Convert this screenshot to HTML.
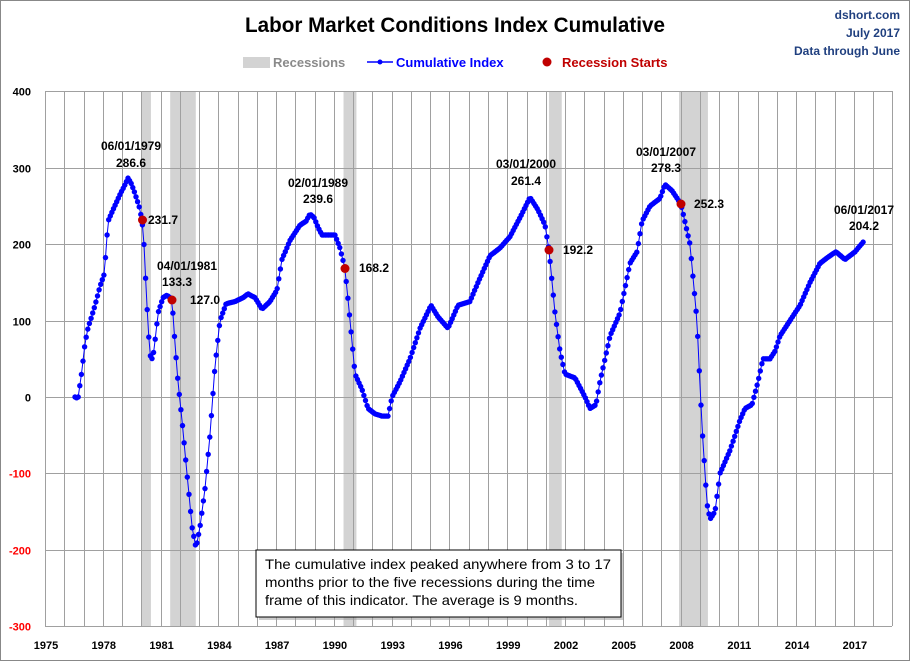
<!DOCTYPE html>
<html><head><meta charset="utf-8"><style>
html,body{margin:0;padding:0;background:#fff}
svg{display:block;font-family:"Liberation Sans",sans-serif}
</style></head><body>
<svg id="s" width="910" height="661" viewBox="0 0 910 661" xmlns="http://www.w3.org/2000/svg">
<rect x="0.5" y="0.5" width="909" height="660" fill="#fff" stroke="#888"/>
<g id="rec" fill="#d3d3d3"></g>
<g id="grid" stroke="#a0a0a0" stroke-width="1"></g>
<g id="lab" font-size="11" font-weight="bold"></g>
<text x="455" y="32" font-size="21" font-weight="bold" text-anchor="middle" textLength="420" lengthAdjust="spacingAndGlyphs">Labor Market Conditions Index Cumulative</text>
<g font-size="12" font-weight="bold" fill="#1f3f7f" text-anchor="end">
<text x="900" y="19">dshort.com</text><text x="900" y="37">July 2017</text><text x="900" y="55">Data through June</text></g>
<rect x="243" y="57" width="27" height="11" fill="#d3d3d3"/>
<text x="273" y="67" font-size="13" font-weight="bold" fill="#8a8a8a">Recessions</text>
<line x1="367" y1="62" x2="393" y2="62" stroke="#0000ff" stroke-width="1.5"/><circle cx="380" cy="62" r="2.5" fill="#0000ff"/>
<text x="396" y="67" font-size="13" font-weight="bold" fill="#0000ff">Cumulative Index</text>
<circle cx="547" cy="62" r="4.5" fill="#c00000"/>
<text x="562" y="67" font-size="13" font-weight="bold" fill="#c00000">Recession Starts</text>
<polyline id="line" fill="none" stroke="#0000ff" stroke-width="1"/>
<g id="dots" fill="#0000ff"></g>
<g fill="#c00000">
<circle cx="142.5" cy="220" r="4.5"/><circle cx="172" cy="300" r="4.5"/><circle cx="345" cy="268.5" r="4.5"/><circle cx="549" cy="250" r="4.5"/><circle cx="681" cy="204" r="4.5"/></g>
<g font-size="12" font-weight="bold" fill="#000" text-anchor="middle">
<text x="131" y="150">06/01/1979</text><text x="131" y="167">286.6</text>
<text x="163" y="224">231.7</text>
<text x="187" y="270">04/01/1981</text><text x="177" y="286">133.3</text>
<text x="205" y="304">127.0</text>
<text x="318" y="187">02/01/1989</text><text x="318" y="203">239.6</text>
<text x="374" y="272">168.2</text>
<text x="526" y="168">03/01/2000</text><text x="526" y="185">261.4</text>
<text x="578" y="254">192.2</text>
<text x="666" y="156">03/01/2007</text><text x="666" y="172">278.3</text>
<text x="709" y="208">252.3</text>
<text x="864" y="214">06/01/2017</text><text x="864" y="230">204.2</text>
</g>
<rect x="259" y="553" width="365" height="67" fill="#999" opacity="0.5"/>
<rect x="256" y="550" width="365" height="67" fill="#fff" stroke="#000" stroke-width="1"/>
<g font-size="14" fill="#000">
<text x="265" y="569" textLength="346" lengthAdjust="spacingAndGlyphs">The cumulative index peaked anywhere from 3 to 17</text>
<text x="265" y="587" textLength="330" lengthAdjust="spacingAndGlyphs">months prior to the five recessions during the time</text>
<text x="265" y="605" textLength="313" lengthAdjust="spacingAndGlyphs">frame of this indicator. The average is 9 months.</text>
</g>
</svg>
<script>
const NS="http://www.w3.org/2000/svg";
function el(p,t,a,txt){const e=document.createElementNS(NS,t);for(const k in a)e.setAttribute(k,a[k]);if(txt!=null)e.textContent=txt;document.getElementById(p).appendChild(e);return e;}
const X0=45,PY=19.26,L=45,R=892,T=91,B=626;
const xy=y=>X0+(y-1975)*PY;
const vy=v=>397-v*0.764;
[[1980,1980.5],[1981.5,1982.83],[1990.5,1991.17],[2001.17,2001.83],[2007.92,2009.42]].forEach(r=>el("rec","rect",{x:xy(r[0]),y:T,width:xy(r[1])-xy(r[0]),height:B-T}));
for(let y=1975;y<=2019;y++){const x=Math.round(xy(y))+0.5;if(x<=R+1)el("grid","line",{x1:x,y1:T,x2:x,y2:B});}
el("grid","line",{x1:R+.5,y1:T,x2:R+.5,y2:B});
for(let v=-300;v<=400;v+=100){const y=Math.round(vy(v))+0.5;el("grid","line",{x1:L,y1:y,x2:R,y2:y});
el("lab","text",{x:31,y:y+4,"text-anchor":"end",fill:v<0?"#ff0000":"#000"},v);}
for(let y=1975;y<=2017;y+=3)el("lab","text",{x:xy(y)+1,y:649,"text-anchor":"middle",fill:"#000"},y);
const K=[[75,0],[78,-2],[82,35],[85,70],[88,90],[95,120],[100,145],[104,160],[106,190],[108,230],[113,245],[120,265],[125,278],[128,286.6],[131,280],[134,270],[139,250],[142,231.7],[144,200],[146,145],[148,95],[150,55],[152,50],[154,60],[158,110],[163,130],[167,133.3],[170,130],[172,127],[175,70],[178,20],[182,-30],[187,-100],[192,-170],[196,-198],[200,-170],[205,-120],[210,-50],[215,40],[220,100],[226,122],[235,125],[243,130],[248,135],[255,130],[262,115],[270,125],[277,140],[282,180],[290,205],[300,225],[306,230],[310,239.6],[314,235],[318,222],[322,212],[335,212],[340,195],[345,168.2],[350,100],[355,30],[362,10],[368,-15],[375,-22],[382,-25],[388,-25],[392,0],[400,20],[410,50],[420,90],[431,120],[438,105],[448,90],[458,120],[470,125],[478,150],[490,185],[500,195],[510,210],[522,240],[530,261.4],[538,245],[545,225],[549,192.2],[555,110],[560,60],[565,30],[575,25],[585,0],[590,-15],[596,-10],[600,20],[610,80],[620,110],[630,175],[637,190],[642,230],[650,250],[660,260],[665,278.3],[672,270],[681,252.3],[690,200],[697,100],[702,-40],[707,-140],[710,-160],[715,-150],[720,-100],[730,-70],[740,-30],[745,-15],[752,-10],[758,20],[763,50],[770,50],[775,60],[780,80],[790,100],[800,120],[810,150],[820,175],[830,185],[836,190],[845,180],[855,190],[864,204.2]];
function f(x){for(let i=1;i<K.length;i++)if(x<=K[i][0]){const a=K[i-1],b=K[i];return a[1]+(b[1]-a[1])*(x-a[0])/(b[0]-a[0]);}return K[K.length-1][1];}
const pts=[];for(let x=75;x<=864.01;x+=PY/12)pts.push([x,vy(f(x))]);
document.getElementById("line").setAttribute("points",pts.map(p=>p[0].toFixed(1)+","+p[1].toFixed(1)).join(" "));
pts.forEach(p=>el("dots","circle",{cx:p[0].toFixed(1),cy:p[1].toFixed(1),r:2.7}));
</script>
</body></html>
